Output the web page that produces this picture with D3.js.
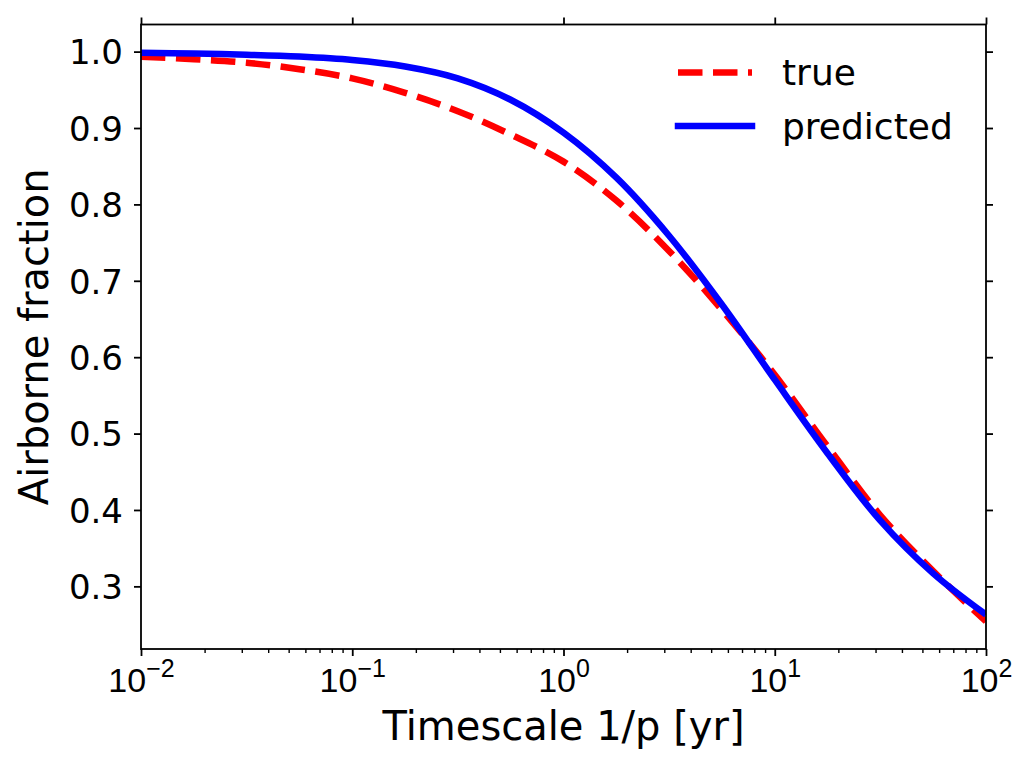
<!DOCTYPE html>
<html>
<head>
<meta charset="utf-8">
<script src="https://cdn.jsdelivr.net/npm/d3@7"></script>
<style>
  body { margin: 0; background: #fff; }
  svg { font-family: "DejaVu Sans", sans-serif; }
</style>
</head>
<body>
<div id="chart"></div>
<script>
// timescale 1/p [yr], log spaced
const timescale = [0.01, 0.0178, 0.0316, 0.0562, 0.1, 0.178, 0.316, 0.562, 1, 1.78, 3.16, 5.62, 10, 17.8, 31.6, 56.2, 100];
const trueAF = [0.9933, 0.990, 0.9855, 0.977, 0.965, 0.946, 0.922, 0.8915, 0.856, 0.805, 0.739, 0.662, 0.577, 0.483, 0.393, 0.320, 0.254];
const predictedAF = [0.9985, 0.9975, 0.996, 0.9935, 0.989, 0.9805, 0.965, 0.937, 0.894, 0.835, 0.759, 0.669, 0.5705, 0.474, 0.386, 0.317, 0.263];
const xTicks = [0.01, 0.1, 1, 10, 100];
const yTicks = [0.3, 0.4, 0.5, 0.6, 0.7, 0.8, 0.9, 1.0];
const seriesNames = ["true", "predicted"];

const WIDTH = 1033;
const HEIGHT = 767;
const mLeft = 141, mRight = 986, mTop = 24.5, mBottom = 649;

let svg = d3.select("#chart").append("svg")
  .attr("width", WIDTH)
  .attr("height", HEIGHT);

let x = d3.scaleLog().domain([0.01, 100]).range([mLeft, mRight]);
let y = d3.scaleLinear().domain([0.218, 1.0355]).range([mBottom, mTop]);

// minor ticks 2..9 in each decade
let minors = [];
for (let e = -2; e < 2; e++) {
  for (let k = 2; k < 10; k++) minors.push(k * Math.pow(10, e));
}

svg.append("defs").append("clipPath").attr("id", "plotclip")
  .append("rect")
  .attr("x", mLeft).attr("y", mTop)
  .attr("width", mRight - mLeft).attr("height", mBottom - mTop);

let line = d3.line()
  .x(d => x(d[0]))
  .y(d => y(d[1]))
  .curve(d3.curveCatmullRom.alpha(0.5));

let lines = svg.append("g").attr("clip-path", "url(#plotclip)");

lines.append("path")
  .datum(timescale.map((t, i) => [t, trueAF[i]]))
  .attr("d", line)
  .attr("fill", "none")
  .attr("stroke", "#ff0000")
  .attr("stroke-width", 6.5)
  .attr("stroke-dasharray", "24.5 10.5");

lines.append("path")
  .datum(timescale.map((t, i) => [t, predictedAF[i]]))
  .attr("d", line)
  .attr("fill", "none")
  .attr("stroke", "#0000ff")
  .attr("stroke-width", 6.5);

// axes
function styleAxis(g, w) {
  g.select(".domain").remove();
  g.selectAll(".tick line").attr("stroke", "#000").attr("stroke-width", w);
}

let xb = svg.append("g")
  .attr("transform", `translate(0,${mBottom})`)
  .call(d3.axisBottom(x).tickValues(xTicks).tickSize(7).tickFormat(""));
styleAxis(xb, 1.8);
xb.selectAll(".tick text").remove();
xb.selectAll(".tick").append("text")
  .attr("y", 43)
  .attr("fill", "#000")
  .attr("text-anchor", "middle")
  .style("font-size", "34px")
  .each(function(d) {
    let t = d3.select(this);
    let ex = Math.round(Math.log10(d));
    t.append("tspan").text("10");
    t.append("tspan")
      .attr("dy", -15)
      .style("font-size", "25px")
      .text(ex < 0 ? "\u2212" + (-ex) : String(ex));
  });

let xbm = svg.append("g")
  .attr("transform", `translate(0,${mBottom})`)
  .call(d3.axisBottom(x).tickValues(minors).tickSize(4).tickFormat(""));
styleAxis(xbm, 1.4);

let xt = svg.append("g")
  .attr("transform", `translate(0,${mTop})`)
  .call(d3.axisTop(x).tickValues(xTicks).tickSize(7).tickFormat(""));
styleAxis(xt, 1.8);

let yl = svg.append("g")
  .attr("transform", `translate(${mLeft},0)`)
  .call(d3.axisLeft(y).tickValues(yTicks).tickSize(7).tickPadding(11).tickFormat(d3.format(".1f")));
styleAxis(yl, 1.8);
yl.selectAll(".tick text")
  .attr("fill", "#000")
  .attr("dy", "0.36em")
  .style("font-size", "34px")
  .style("font-family", "DejaVu Sans");

let yr = svg.append("g")
  .attr("transform", `translate(${mRight},0)`)
  .call(d3.axisRight(y).tickValues(yTicks).tickSize(7).tickFormat(""));
styleAxis(yr, 1.8);

// spines
svg.append("rect")
  .attr("x", mLeft).attr("y", mTop)
  .attr("width", mRight - mLeft).attr("height", mBottom - mTop)
  .attr("fill", "none")
  .attr("stroke", "#000")
  .attr("stroke-width", 1.8);

// axis labels
svg.append("text")
  .attr("x", (mLeft + mRight) / 2)
  .attr("y", 740)
  .attr("text-anchor", "middle")
  .style("font-size", "40px")
  .text("Timescale 1/p [yr]");

svg.append("text")
  .attr("transform", `translate(48,${(mTop + mBottom) / 2}) rotate(-90)`)
  .attr("text-anchor", "middle")
  .style("font-size", "40px")
  .text("Airborne fraction");

// legend
let legend = svg.append("g");
let legendRows = legend.selectAll("g")
  .data(seriesNames)
  .enter()
  .append("g")
  .attr("transform", (d, i) => `translate(0,${72.5 + i * 53.5})`);

legendRows.append("line")
  .attr("x1", 678).attr("x2", 752)
  .attr("stroke", d => d === "true" ? "#ff0000" : "#0000ff")
  .attr("stroke-width", 6.5)
  .attr("stroke-linecap", d => d === "true" ? "butt" : "square")
  .attr("stroke-dasharray", d => d === "true" ? "24.5 10.5" : null);

legendRows.append("text")
  .attr("x", 782)
  .attr("y", 12.5)
  .style("font-size", "36px")
  .text(d => d);
</script>
</body>
</html>
